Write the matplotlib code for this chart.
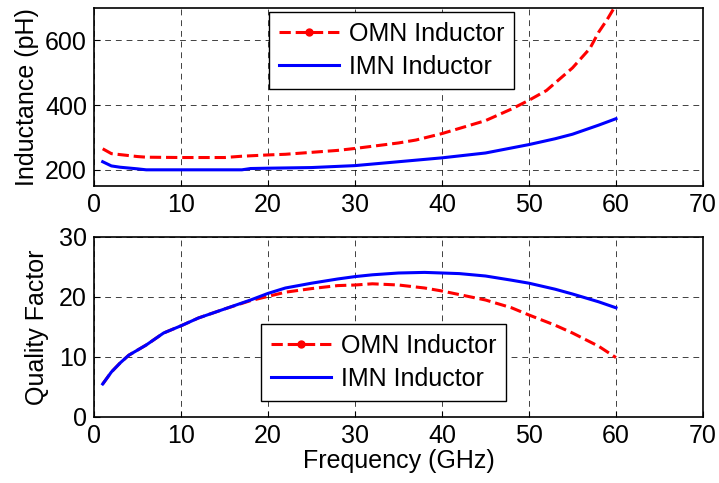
import matplotlib
matplotlib.use("Agg")
import matplotlib.pyplot as plt
from matplotlib.lines import Line2D

plt.rcParams['font.family'] = ['Liberation Sans', 'DejaVu Sans']
plt.rcParams['font.size'] = 18

# inductance (pH) vs frequency (GHz)
freq_l = [1, 2, 3, 5, 6, 10, 15, 17, 20, 22, 25, 28, 30, 35, 37, 40, 45, 48, 50, 52, 55, 57, 58, 59, 60]
omn_l = [265, 250, 247, 241, 239, 238, 238, 242, 246, 248, 254, 260, 266, 283, 292, 312, 352, 388, 415, 445, 515, 575, 625, 665, 710]
freq_l2 = [1, 2, 3, 5, 6, 10, 17, 18, 20, 25, 30, 35, 40, 45, 50, 53, 55, 58, 60]
imn_l = [225, 212, 208, 203, 200, 200, 200, 204, 205, 207, 213, 225, 237, 252, 278, 296, 310, 338, 358]

# quality factor vs frequency (GHz)
freq_q = [1, 2, 3, 4, 6, 8, 10, 12, 15, 18, 20, 22, 25, 28, 30, 32, 35, 38, 40, 42, 45, 48, 50, 53, 55, 58, 60]
omn_q = [5.5, 7.5, 9, 10.3, 12, 14, 15.2, 16.5, 18, 19.4, 20.1, 20.8, 21.4, 21.9, 22, 22.2, 22, 21.5, 21, 20.4, 19.5, 18.2, 17, 15.3, 14, 11.8, 9.9]
imn_q = [5.5, 7.5, 9, 10.3, 12, 14, 15.2, 16.5, 18, 19.5, 20.6, 21.5, 22.3, 23, 23.4, 23.7, 24, 24.1, 24, 23.9, 23.5, 22.8, 22.3, 21.3, 20.5, 19.2, 18.2]

fig = plt.figure(figsize=(7.19, 4.83), dpi=100)
ax1 = fig.add_axes([94/719, 1 - 186/483, 609/719, 178/483])
ax2 = fig.add_axes([94/719, 1 - 417/483, 609/719, 180/483])

def style(ax):
    ax.grid(True, color='black', linestyle=(0, (6, 5)), linewidth=0.7, alpha=0.75)
    ax.tick_params(direction='in', length=4, width=0.8, pad=5)
    for s in ax.spines.values():
        s.set_linewidth(1.2)
    ax.set_xlim(0, 70)
    ax.set_xticks(range(0, 71, 10))

ax1.plot(freq_l, omn_l, color='red', linestyle='--', linewidth=2.2)
ax1.plot(freq_l2, imn_l, color='blue', linewidth=2.2)
ax1.set_ylim(150, 700)
ax1.set_yticks([200, 400, 600])
ax1.set_ylabel('Inductance (pH)', labelpad=4)
style(ax1)

ax2.plot(freq_q, omn_q, color='red', linestyle='--', linewidth=2.2)
ax2.plot(freq_q, imn_q, color='blue', linewidth=2.2)
ax2.set_ylim(0, 30)
ax2.set_yticks([0, 10, 20, 30])
ax2.set_ylabel('Quality Factor', labelpad=7)
ax2.set_xlabel('Frequency (GHz)', labelpad=1)
style(ax2)

handles = [Line2D([], [], color='red', linestyle='--', linewidth=2.2, marker='.', markersize=10),
           Line2D([], [], color='blue', linewidth=2.2)]
labels = ['OMN Inductor', 'IMN Inductor']
for ax, loc in [(ax1, (0.287, 0.978)), (ax2, (0.274, 0.517))]:
    leg = ax.legend(handles, labels, loc='upper left', bbox_to_anchor=loc,
                    borderaxespad=0, fancybox=False, edgecolor='black', framealpha=1,
                    handlelength=2.4, handletextpad=0.4, borderpad=0.4, labelspacing=0.35)
    leg.get_frame().set_linewidth(1.0)

fig.savefig('out.png', dpi=100)
